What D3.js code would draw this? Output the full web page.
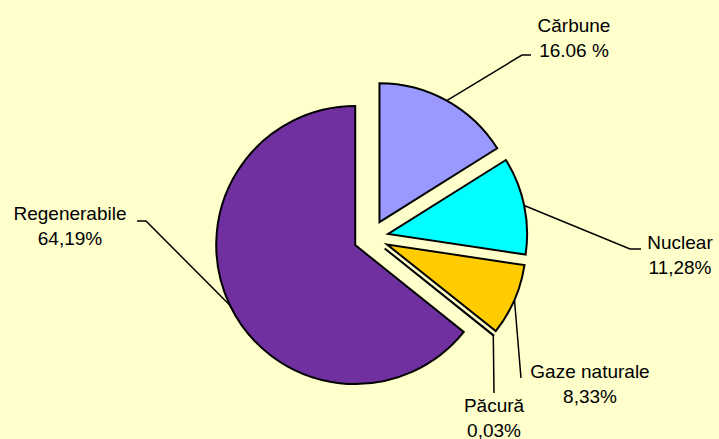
<!DOCTYPE html>
<html>
<head>
<meta charset="utf-8">
<script src="https://cdn.jsdelivr.net/npm/d3@7"></script>
<style>
  html, body { margin: 0; padding: 0; background: #FFFFCC; }
  svg { display: block; }
  text { font-family: "Liberation Sans", Arial, sans-serif; font-size: 19px; fill: #000; }
</style>
</head>
<body>
<div id="chart"></div>
<script>
// Data
const categories = ['Cărbune', 'Nuclear', 'Gaze naturale', 'Păcură', 'Regenerabile'];
const shares = [16.06, 11.28, 8.33, 0.03, 64.19];
const shareLabels = ['16.06 %', '11,28%', '8,33%', '0,03%', '64,19%'];
const colors = ['#9999FF', '#00FFFF', '#FFCC00', '#FFFFFF', '#7030A0'];

// Label layout: text centre, first baseline, leader elbow/end
const labelLayout = {
    'Cărbune':       { x: 574, y: 32,  elbow: [522, 55],  end: [531, 55] },
    'Nuclear':       { x: 680, y: 249, elbow: [630, 249], end: [641, 249] },
    'Gaze naturale': { x: 590, y: 378, elbow: [521, 378], end: null },
    'Păcură':        { x: 494, y: 412, elbow: [494, 393], end: null },
    'Regenerabile':  { x: 70,  y: 220, elbow: [146, 221], end: [137, 221] }
};

const width = 719, height = 439;
const cx = 371, cy = 237.5;
const radius = 139;
const explode = 17.5;
const lineGap = 24.5;

const svg = d3.select('#chart').append('svg')
    .attr('width', width)
    .attr('height', height);

svg.append('rect')
    .attr('width', width)
    .attr('height', height)
    .attr('fill', '#FFFFCC');

const pie = d3.pie()
    .sort(null)
    .value(d => d.value);

const data = categories.map((c, i) => ({ name: c, value: shares[i], label: shareLabels[i], color: colors[i] }));
const arcs = pie(data);

const arc = d3.arc().innerRadius(0).outerRadius(radius);

// offset of each slice along its mid angle
function offset(d, dist) {
    const a = (d.startAngle + d.endAngle) / 2;
    return [Math.sin(a) * dist, -Math.cos(a) * dist];
}

const g = svg.append('g')
    .attr('transform', `translate(${cx},${cy})`);

// Leader lines (drawn under the slices)
const leaders = svg.append('g').attr('class', 'leaders');
arcs.forEach(d => {
    const lay = labelLayout[d.data.name];
    const o = offset(d, explode + radius);
    const pts = [[cx + o[0], cy + o[1]], lay.elbow];
    if (lay.end) pts.push(lay.end);
    leaders.append('path')
        .attr('d', d3.line()(pts))
        .attr('fill', 'none')
        .attr('stroke', '#000')
        .attr('stroke-width', 1.5);
});

// Slices
g.selectAll('path.slice')
    .data(arcs)
    .enter()
    .append('path')
    .attr('class', 'slice')
    .attr('transform', d => `translate(${offset(d, explode).join(',')})`)
    .attr('d', arc)
    .attr('fill', d => d.data.color)
    .attr('stroke', '#000')
    .attr('stroke-width', 2)
    .attr('stroke-linejoin', 'miter');

// Labels
const labels = svg.append('g').attr('class', 'labels');
arcs.forEach(d => {
    const lay = labelLayout[d.data.name];
    const t = labels.append('text')
        .attr('text-anchor', 'middle');
    t.append('tspan')
        .attr('x', lay.x)
        .attr('y', lay.y)
        .text(d.data.name);
    t.append('tspan')
        .attr('x', lay.x)
        .attr('y', lay.y + lineGap)
        .text(d.data.label);
});
</script>
</body>
</html>
